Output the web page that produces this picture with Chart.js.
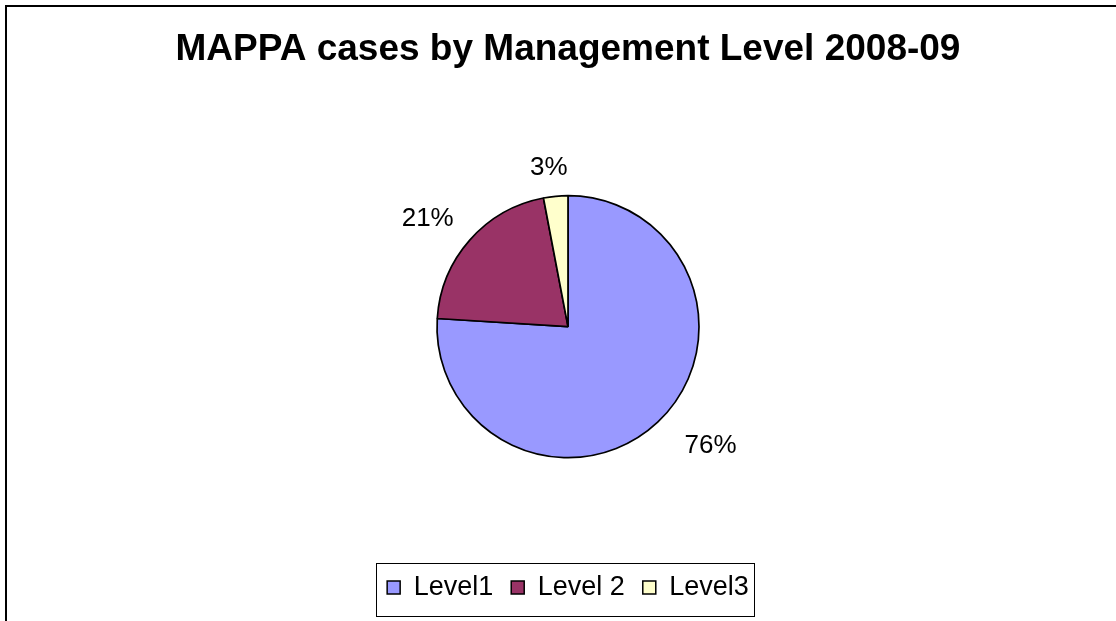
<!DOCTYPE html>
<html>
<head>
<meta charset="utf-8">
<script src="https://cdn.jsdelivr.net/npm/chart.js@4/dist/chart.umd.min.js"></script>
<style>
  html, body { margin: 0; padding: 0; background: #ffffff; }
  #wrap { width: 1116px; height: 621px; position: relative; }
</style>
</head>
<body>
<div id="wrap"><canvas id="c" width="1116" height="621"></canvas></div>
<script>
const chartTitle = 'MAPPA cases by Management Level 2008-09';
const categories = ['Level1', 'Level 2', 'Level3'];
const values = [76, 21, 3];
const sliceColors = ['#9999FF', '#993366', '#FFFFCC'];

const FONT = '"Liberation Sans", Arial, Helvetica, sans-serif';

const frame = {
  id: 'frame',
  beforeDraw(chart) {
    const ctx = chart.ctx;
    ctx.save();
    ctx.fillStyle = '#ffffff';
    ctx.fillRect(0, 0, chart.width, chart.height);
    ctx.strokeStyle = '#000000';
    ctx.lineWidth = 2;
    ctx.beginPath();
    ctx.moveTo(6, chart.height + 2);
    ctx.lineTo(6, 6);
    ctx.lineTo(chart.width + 2, 6);
    ctx.stroke();
    ctx.restore();
  }
};

const legendBorder = {
  id: 'legendBorder',
  afterDraw(chart, args, opts) {
    const lg = chart.legend;
    if (!lg || !lg.legendHitBoxes || !lg.legendHitBoxes.length) return;
    const hb = lg.legendHitBoxes;
    let l = Infinity, r = -Infinity, t = Infinity, b = -Infinity;
    hb.forEach(h => {
      l = Math.min(l, h.left); r = Math.max(r, h.left + h.width);
      t = Math.min(t, h.top); b = Math.max(b, h.top + h.height);
    });
    const ctx = chart.ctx;
    ctx.save();
    ctx.strokeStyle = '#000000';
    ctx.lineWidth = 1;
    ctx.strokeRect(Math.round(l - opts.padL) + 0.5, Math.round(t - opts.padT) + 0.5,
                   Math.round(r - l + opts.padL + opts.padR), Math.round(b - t + opts.padT + opts.padB));
    ctx.restore();
  }
};

const pctLabels = {
  id: 'pctLabels',
  afterDatasetsDraw(chart, args, opts) {
    const meta = chart.getDatasetMeta(0);
    const ds = chart.data.datasets[0];
    const total = ds.data.reduce((a, v) => a + v, 0);
    const ctx = chart.ctx;
    ctx.save();
    ctx.font = opts.font;
    ctx.fillStyle = '#000000';
    ctx.textAlign = 'center';
    ctx.textBaseline = 'middle';
    meta.data.forEach((arc, i) => {
      const p = arc.getProps(['x', 'y', 'startAngle', 'endAngle', 'outerRadius'], true);
      const mid = (p.startAngle + p.endAngle) / 2;
      const dx = Math.cos(mid), dy = Math.sin(mid);
      const txt = Math.round(ds.data[i] / total * 100) + '%';
      const w = ctx.measureText(txt).width;
      const h = opts.textHeight;
      const d = p.outerRadius + opts.gap;
      const off = opts.offsets[i] || [0, 0];
      const cx = p.x + dx * d + dx * w / 2 + off[0];
      const cy = p.y + dy * d + dy * h / 2 + off[1];
      ctx.fillText(txt, cx, cy);
    });
    ctx.restore();
  }
};

new Chart(document.getElementById('c'), {
  type: 'pie',
  data: {
    labels: categories,
    datasets: [{
      data: values,
      backgroundColor: sliceColors,
      borderColor: '#000000',
      borderWidth: 1.7,
      radius: 131
    }]
  },
  options: {
    responsive: false,
    animation: false,
    events: [],
    layout: { padding: { top: 10, left: 20, right: 0, bottom: 10 } },
    plugins: {
      title: {
        display: true,
        text: chartTitle,
        color: '#000000',
        font: { family: FONT, size: 37, weight: 'bold', lineHeight: 1.2 },
        padding: { top: 18, bottom: 25 }
      },
      legend: {
        display: true,
        position: 'bottom',
        labels: {
          color: '#000000',
          font: { family: FONT, size: 27 },
          boxWidth: 13,
          boxHeight: 13,
          padding: 18,
          generateLabels(chart) {
            const ds = chart.data.datasets[0];
            return chart.data.labels.map((lab, i) => ({
              text: lab,
              fillStyle: ds.backgroundColor[i],
              strokeStyle: '#000000',
              lineWidth: 1.5,
              hidden: false,
              index: i
            }));
          }
        }
      },
      tooltip: { enabled: false },
      legendBorder: { padL: 11, padR: 5, padT: 11, padB: 15 },
      pctLabels: { font: '26px ' + FONT, textHeight: 20, gap: 22, offsets: [[20, 0], [-6, 0], [-3, 3]] }
    }
  },
  plugins: [frame, legendBorder, pctLabels]
});
</script>
</body>
</html>
